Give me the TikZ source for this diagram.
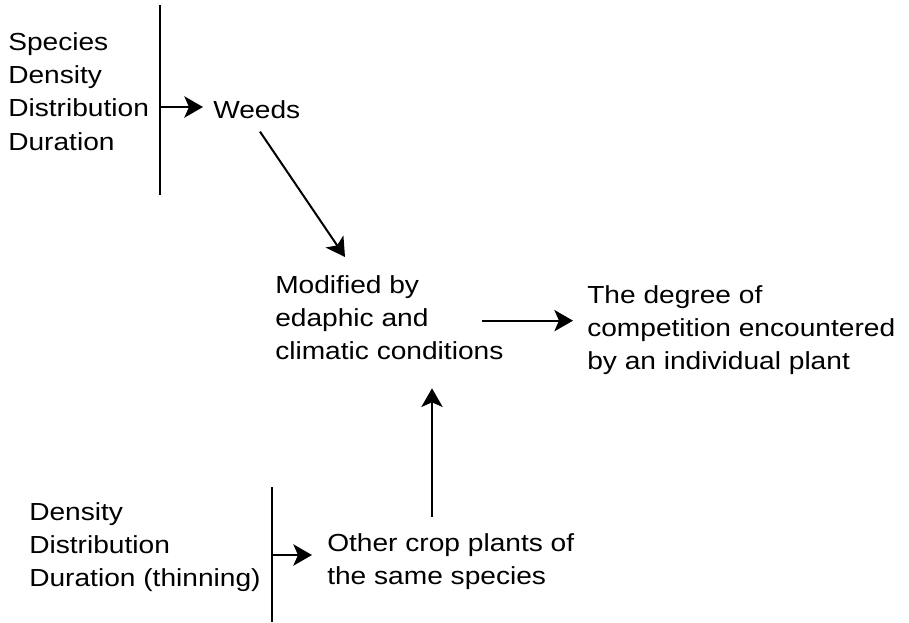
\documentclass[tikz,border=0pt]{standalone}
\usepackage{fontspec}
\setmainfont{Liberation Sans}[FakeStretch=1.14]
\usetikzlibrary{arrows.meta,calc}
\tikzset{
  lbl/.style={anchor=north west,inner sep=0pt,align=left,font=\fontsize{18.5pt}{25pt}\selectfont},
  bar/.style={line width=1.5pt},
  arr/.style={line width=1.5pt,-{Stealth[length=14pt,width=16pt,inset=3.5pt]}}
}
\begin{document}
\begin{tikzpicture}[x=0.75pt,y=-0.75pt]
\useasboundingbox[fill=white] (0,0) rectangle (909,622);
% text blocks
\node[lbl] (src1) at (8,32) {Species\\Density\\Distribution\\Duration};
\node[lbl] (weeds) at (213,100) {Weeds};
\node[lbl] (mid) at (275,275) {Modified by\\edaphic and\\climatic conditions};
\node[lbl] (res) at (587,285) {The degree of\\competition encountered\\by an individual plant};
\node[lbl] (src2) at (29,502) {Density\\Distribution\\Duration (thinning)};
\node[lbl] (crop) at (327,533) {Other crop plants of\\the same species};
% bars
\coordinate (b1t) at (160,5);
\coordinate (b1b) at (160,195);
\coordinate (b1m) at (160,107);
\coordinate (b2t) at (272,487);
\coordinate (b2b) at (272,622);
\coordinate (b2m) at (272,555);
\draw[bar] (b1t) -- (b1b);
\draw[bar] (b2t) -- (b2b);
% connectors
\draw[arr] (b1m) -- ($(b1m -| weeds.west)+(-10,0)$);
\draw[arr] ($(weeds.south west)+(47,13)$) -- ($(mid.north west)+(70,-18)$);
\draw[arr] ($(mid.west)+(207,3)$) -- ($(mid.west -| res.west)+(-14,3)$);
\draw[arr] (b2m) -- ($(b2m -| crop.west)+(-15,0)$);
\draw[arr] ($(crop.north west)+(105,-16)$) -- ($(mid.south west)+(157,28)$);
\end{tikzpicture}
\end{document}
